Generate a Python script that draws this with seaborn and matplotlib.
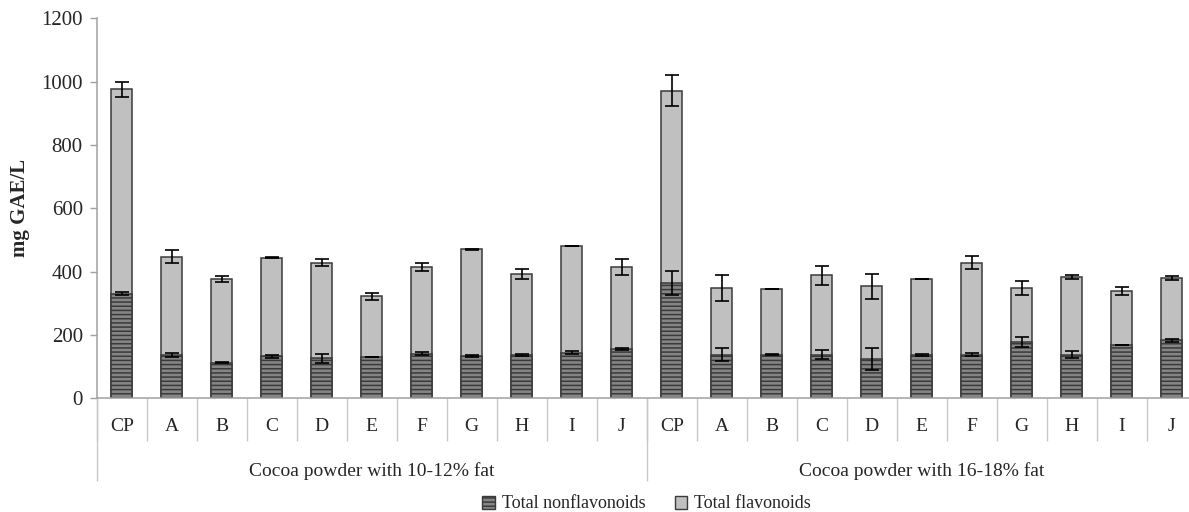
import numpy as np
import pandas as pd
import matplotlib
matplotlib.use("Agg")
import matplotlib.pyplot as plt
from matplotlib.patches import Patch
import matplotlib.transforms as mtransforms
import seaborn as sns

# ---------------- data ----------------
categories = ["CP", "A", "B", "C", "D", "E", "F", "G", "H", "I", "J"]
groups = ["Cocoa powder with 10-12% fat", "Cocoa powder with 16-18% fat"]

nonflav_low = [330, 138, 113, 133, 126, 130, 141, 133, 136, 144, 157]
nonflav_low_err = [5, 6, 2, 5, 13, 0, 4, 3, 3, 5, 3]
flav_low = [646, 309, 264, 311, 302, 192, 273, 337, 257, 338, 257]
total_low_err = [24, 21, 10, 2, 11, 10, 12, 3, 15, 0, 26]

nonflav_high = [365, 138, 138, 138, 123, 138, 138, 177, 138, 167, 183]
nonflav_high_err = [38, 21, 2, 13, 35, 3, 4, 16, 11, 0, 4]
flav_high = [607, 210, 206, 250, 231, 238, 290, 171, 245, 171, 197]
total_high_err = [48, 40, 0, 30, 39, 0, 21, 23, 7, 12, 6]

yticks = [0, 200, 400, 600, 800, 1000, 1200]
ylabel = "mg GAE/L"
legend_labels = ["Total nonflavonoids", "Total flavonoids"]

# ---------------- table ----------------
keys = [f"{g}|{c}" for g in groups for c in categories]
nonflav = np.array(nonflav_low + nonflav_high, dtype=float)
flav = np.array(flav_low + flav_high, dtype=float)
df = pd.DataFrame({
    "key": keys,
    "nonflav": nonflav,
    "total": nonflav + flav,
    "nonflav_err": nonflav_low_err + nonflav_high_err,
    "total_err": total_low_err + total_high_err,
})

# ---------------- style ----------------
sns.set_theme(style="white")
plt.rcParams["font.family"] = ["Liberation Serif", "DejaVu Serif"]
plt.rcParams["hatch.color"] = "#2a2a2a"
plt.rcParams["hatch.linewidth"] = 1.1

W, H = 1189, 512
fig = plt.figure(figsize=(W / 100, H / 100), dpi=100)
ax_left, ax_bottom_px, ax_top_px = 96.7, 398.3, 18.3
ax = fig.add_axes([ax_left / W, (H - ax_bottom_px) / H, 1100 / W, (ax_bottom_px - ax_top_px) / H])

light = "#c0c0c0"
dark = "#858585"
edge = "#3a3a3a"
axis_gray = "#a0a0a0"

sns.barplot(data=df, x="key", y="total", order=keys, color=light, saturation=1,
            edgecolor=edge, linewidth=1.1, width=0.43, errorbar=None, ax=ax)
sns.barplot(data=df, x="key", y="nonflav", order=keys, color=dark, saturation=1,
            edgecolor=edge, linewidth=1.1, width=0.43, errorbar=None, hatch="----", ax=ax)

pos = np.arange(len(keys))
err_kw = dict(fmt="none", ecolor="black", elinewidth=1.2, capsize=5, capthick=1.2, zorder=5)
ax.errorbar(pos, df["total"], yerr=df["total_err"], **err_kw)
ax.errorbar(pos, df["nonflav"], yerr=df["nonflav_err"], **err_kw)

# ---------------- axes ----------------
ax.set_ylim(yticks[0], yticks[-1])
ax.set_yticks(yticks)
ax.set_xlim(-0.5, len(keys) - 0.5)
ax.set_xticks(pos)
ax.set_xticklabels(categories * len(groups))
ax.set_xlabel("")
ax.set_ylabel(ylabel, fontsize=15, fontweight="bold")
ax.yaxis.set_label_coords((30 - ax_left) / 1100, 0.5)

for s in ["top", "right"]:
    ax.spines[s].set_visible(False)
for s in ["left", "bottom"]:
    ax.spines[s].set_color(axis_gray)
    ax.spines[s].set_linewidth(1.1)

ax.tick_params(axis="y", which="major", direction="out", length=5, width=1.0,
               color=axis_gray, pad=5, labelsize=15, left=True)
ax.tick_params(axis="x", which="major", length=0, pad=14, labelsize=14, bottom=True)
ax.set_xticks(np.arange(-0.5, len(keys), 1.0), minor=True)
ax.tick_params(axis="x", which="minor", direction="out", length=31, width=1.0,
               color="#c8c8c8", bottom=True)

sec = ax.secondary_xaxis("bottom")
sec.set_xticks([-0.5, len(categories) - 0.5, len(keys) - 0.5])
sec.set_xticklabels([])
sec.tick_params(axis="x", direction="out", length=60, width=1.0, color="#c8c8c8")
sec.spines["bottom"].set_visible(False)

trans = mtransforms.blended_transform_factory(ax.transData, ax.transAxes)
for gi, g in enumerate(groups):
    center = gi * len(categories) + (len(categories) - 1) / 2
    ax.text(center, -(471 - ax_bottom_px) / 380, g, transform=trans,
            ha="center", va="center", fontsize=14)

handles = [
    Patch(facecolor=dark, edgecolor=edge, hatch="----", linewidth=1.0, label=legend_labels[0]),
    Patch(facecolor=light, edgecolor=edge, linewidth=1.0, label=legend_labels[1]),
]
ax.legend(handles=handles, loc="center", bbox_to_anchor=(0.5, -(504 - ax_bottom_px) / 380),
          ncol=2, frameon=False, fontsize=13, handlelength=0.7, handleheight=0.7,
          handletextpad=0.4, columnspacing=1.6)

fig.savefig("out.png", dpi=100)
